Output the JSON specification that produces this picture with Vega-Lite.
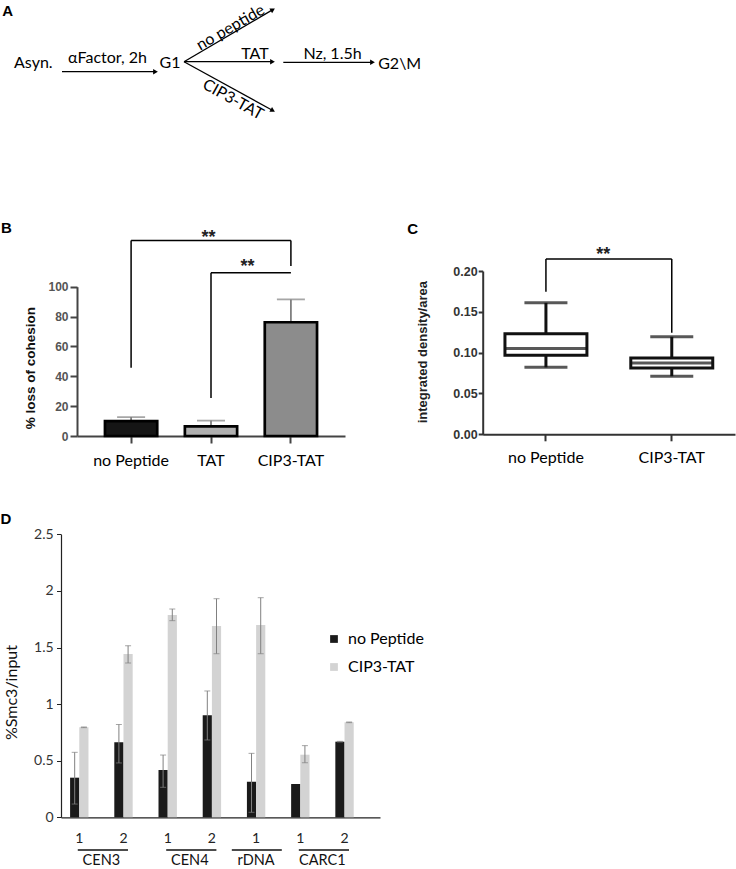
{
  "$schema": "https://vega.github.io/schema/vega-lite/v6.json",
  "width": 736,
  "height": 869,
  "autosize": {"type": "none"},
  "padding": 0,
  "background": "white",
  "config": {"view": {"stroke": null}, "font": "Lato", "axis": {"grid": false}},
  "datasets": {
    "diagramText": [
      {"label": "Asyn.", "x": 33.3, "y": 63, "angle": 0},
      {"label": "αFactor, 2h", "x": 107.5, "y": 57.5, "angle": 0},
      {"label": "G1", "x": 170, "y": 62.5, "angle": 0},
      {"label": "no peptide", "x": 230.5, "y": 27.5, "angle": -30},
      {"label": "TAT", "x": 255, "y": 53.5, "angle": 0},
      {"label": "CIP3-TAT", "x": 233, "y": 99.5, "angle": 29},
      {"label": "Nz, 1.5h", "x": 332.5, "y": 53.5, "angle": 0},
      {"label": "G2\\M", "x": 399.7, "y": 64, "angle": 0}
    ],
    "arrows": [
      {"x": 62, "y": 71.7, "x2": 155.5, "y2": 71.7, "angle": 0},
      {"x": 184, "y": 61.7, "x2": 272.8, "y2": 9.6, "angle": -30.4},
      {"x": 184, "y": 61.7, "x2": 272.5, "y2": 61.7, "angle": 0},
      {"x": 184, "y": 61.7, "x2": 272.8, "y2": 110.5, "angle": 28.8},
      {"x": 283.3, "y": 62.3, "x2": 372.5, "y2": 62.3, "angle": 0}
    ],
    "letters": [
      {"label": "A", "x": 7.7, "y": 11.3},
      {"label": "B", "x": 6.5, "y": 227.7},
      {"label": "C", "x": 412.7, "y": 228.7},
      {"label": "D", "x": 6, "y": 519.3}
    ],
    "bBars": [
      {"cat": "no Peptide", "value": 10, "upper": 12.7},
      {"cat": "TAT", "value": 6.4, "upper": 10.3},
      {"cat": "CIP3-TAT", "value": 76.2, "upper": 91.5}
    ],
    "bLegs": [
      {"cat": "no Peptide", "y1": 45.7, "y2": 131},
      {"cat": "TAT", "y1": 25.4, "y2": 109.4},
      {"cat": "CIP3-TAT", "y1": 113.9, "y2": 131}
    ],
    "bSpans": [
      {"from": "no Peptide", "to": "CIP3-TAT", "y": 131},
      {"from": "TAT", "to": "CIP3-TAT", "y": 109.4}
    ],
    "bStarOuter": [{"cat": "TAT", "y": 129.1, "label": "**"}],
    "bStarInner": [{"cat": "CIP3-TAT", "y": 109.7, "label": "**"}],
    "cBoxes": [
      {"cat": "no Peptide", "lo": 0.082, "q1": 0.0967, "med": 0.105, "q3": 0.123, "hi": 0.161},
      {"cat": "CIP3-TAT", "lo": 0.0711, "q1": 0.0813, "med": 0.0874, "q3": 0.0935, "hi": 0.1194}
    ],
    "cLegs": [
      {"cat": "no Peptide", "y1": 0.1747, "y2": 0.2147},
      {"cat": "CIP3-TAT", "y1": 0.1245, "y2": 0.2147}
    ],
    "cSpans": [{"from": "no Peptide", "to": "CIP3-TAT", "y": 0.2147}],
    "cStar": [{"cat": "CIP3-TAT", "y": 0.2129, "label": "**"}],
    "dBars": [
      {"slot": "CEN3 1", "series": "no Peptide", "value": 0.35, "lo": 0.117, "hi": 0.574},
      {"slot": "CEN3 1", "series": "CIP3-TAT", "value": 0.795, "lo": 0.792, "hi": 0.798},
      {"slot": "CEN3 2", "series": "no Peptide", "value": 0.663, "lo": 0.48, "hi": 0.82},
      {"slot": "CEN3 2", "series": "CIP3-TAT", "value": 1.443, "lo": 1.363, "hi": 1.516},
      {"slot": "CEN4 1", "series": "no Peptide", "value": 0.418, "lo": 0.265, "hi": 0.55},
      {"slot": "CEN4 1", "series": "CIP3-TAT", "value": 1.787, "lo": 1.737, "hi": 1.84},
      {"slot": "CEN4 2", "series": "no Peptide", "value": 0.901, "lo": 0.683, "hi": 1.116},
      {"slot": "CEN4 2", "series": "CIP3-TAT", "value": 1.69, "lo": 1.445, "hi": 1.931},
      {"slot": "rDNA 1", "series": "no Peptide", "value": 0.315, "lo": 0.044, "hi": 0.565},
      {"slot": "rDNA 1", "series": "CIP3-TAT", "value": 1.699, "lo": 1.445, "hi": 1.94},
      {"slot": "CARC1 1", "series": "no Peptide", "value": 0.294, "lo": null, "hi": null},
      {"slot": "CARC1 1", "series": "CIP3-TAT", "value": 0.553, "lo": 0.482, "hi": 0.633},
      {"slot": "CARC1 2", "series": "no Peptide", "value": 0.668, "lo": 0.665, "hi": 0.671},
      {"slot": "CARC1 2", "series": "CIP3-TAT", "value": 0.839, "lo": 0.836, "hi": 0.842}
    ],
    "dGroupPairs": [
      {"group": "CEN3", "first": "CEN3 1", "last": "CEN3 2"},
      {"group": "CEN4", "first": "CEN4 1", "last": "CEN4 2"},
      {"group": "CARC1", "first": "CARC1 1", "last": "CARC1 2"}
    ],
    "dGroupSingle": [{"group": "rDNA", "first": "rDNA 1"}]
  },
  "layer": [
    {
      "layer": [
        {
          "data": {"name": "arrows"},
          "mark": {"type": "rule", "color": "black", "strokeWidth": 1.3},
          "encoding": {
            "x": {"field": "x", "type": "quantitative", "scale": {"domain": [0, 736], "range": [0, 736], "nice": false, "zero": false}, "axis": null},
            "y": {"field": "y", "type": "quantitative", "scale": {"domain": [0, 869], "range": [0, 869], "nice": false, "zero": false}, "axis": null},
            "x2": {"field": "x2"},
            "y2": {"field": "y2"}
          }
        },
        {
          "data": {"name": "arrows"},
          "mark": {"type": "point", "shape": "triangle-right", "filled": true, "size": 30, "color": "black", "opacity": 1},
          "encoding": {
            "x": {"field": "x2", "type": "quantitative"},
            "y": {"field": "y2", "type": "quantitative"},
            "angle": {"field": "angle", "type": "quantitative", "scale": null}
          }
        },
        {
          "data": {"name": "diagramText"},
          "mark": {"type": "text", "font": "Lato", "fontSize": 16, "align": "center", "baseline": "middle", "color": "black"},
          "encoding": {
            "x": {"field": "x", "type": "quantitative"},
            "y": {"field": "y", "type": "quantitative"},
            "text": {"field": "label"},
            "angle": {"field": "angle", "type": "quantitative", "scale": null}
          }
        },
        {
          "data": {"name": "letters"},
          "mark": {"type": "text", "font": "Liberation Sans", "fontWeight": "bold", "fontSize": 15, "align": "center", "baseline": "middle", "color": "black"},
          "encoding": {
            "x": {"field": "x", "type": "quantitative"},
            "y": {"field": "y", "type": "quantitative"},
            "text": {"field": "label"}
          }
        }
      ]
    },
    {
      "layer": [
        {
          "data": {"name": "bBars"},
          "mark": {"type": "rule", "color": "#808080", "strokeWidth": 1.8},
          "encoding": {
            "x": {
              "field": "cat", "type": "nominal",
              "scale": {"domain": ["no Peptide", "TAT", "CIP3-TAT"], "range": [77, 345], "paddingInner": 0.346, "paddingOuter": 0.35, "round": false},
              "axis": {"orient": "bottom", "offset": -433, "title": null, "labelAngle": 0, "domainColor": "#444", "domainWidth": 2, "tickColor": "#444", "tickWidth": 2, "tickSize": 7, "labelFont": "Lato", "labelFontSize": 16, "labelColor": "black", "labelPadding": 17.7, "labelBaseline": "middle"}
            },
            "y": {
              "field": "value", "type": "quantitative",
              "scale": {"domain": [0, 100], "range": [436, 286.7], "nice": false, "zero": false},
              "axis": {"orient": "left", "offset": -77, "values": [0, 20, 40, 60, 80, 100], "title": "% loss of cohesion", "titleFont": "Liberation Sans", "titleFontSize": 13.5, "titleFontWeight": "bold", "titleColor": "#111", "titleAngle": -90, "titleX": -46.3, "titleY": 367.7, "titleAlign": "center", "titleBaseline": "middle", "domainColor": "#444", "domainWidth": 2, "tickColor": "#444", "tickWidth": 2, "tickSize": 7, "labelFont": "Liberation Sans", "labelFontSize": 12, "labelFontWeight": "bold", "labelColor": "#555", "labelPadding": 2}
            },
            "y2": {"field": "upper"}
          }
        },
        {
          "data": {"name": "bBars"},
          "mark": {"type": "tick", "color": "#808080", "thickness": 1.8, "size": 28},
          "encoding": {
            "x": {"field": "cat", "type": "nominal"},
            "y": {"field": "upper", "type": "quantitative"}
          }
        },
        {
          "data": {"name": "bBars"},
          "mark": {"type": "bar", "stroke": "black", "strokeWidth": 2.7},
          "encoding": {
            "x": {"field": "cat", "type": "nominal"},
            "y": {"field": "value", "type": "quantitative"},
            "fill": {"field": "cat", "type": "nominal", "scale": {"domain": ["no Peptide", "TAT", "CIP3-TAT"], "range": ["#151515", "#b0b0b0", "#8c8c8c"]}, "legend": null}
          }
        },
        {
          "data": {"name": "bLegs"},
          "mark": {"type": "rule", "color": "black", "strokeWidth": 1.5},
          "encoding": {
            "x": {"field": "cat", "type": "nominal"},
            "y": {"field": "y1", "type": "quantitative"},
            "y2": {"field": "y2"}
          }
        },
        {
          "data": {"name": "bSpans"},
          "mark": {"type": "rule", "color": "black", "strokeWidth": 1.5},
          "encoding": {
            "x": {"field": "from", "type": "nominal"},
            "x2": {"field": "to"},
            "y": {"field": "y", "type": "quantitative"}
          }
        },
        {
          "data": {"name": "bStarOuter"},
          "mark": {"type": "text", "font": "Liberation Sans", "fontWeight": "bold", "fontSize": 18, "align": "center", "baseline": "alphabetic", "color": "#222"},
          "encoding": {
            "x": {"field": "cat", "type": "nominal", "bandPosition": 0.45},
            "y": {"field": "y", "type": "quantitative"},
            "text": {"field": "label"}
          }
        },
        {
          "data": {"name": "bStarInner"},
          "mark": {"type": "text", "font": "Liberation Sans", "fontWeight": "bold", "fontSize": 18, "align": "center", "baseline": "alphabetic", "color": "#222"},
          "encoding": {
            "x": {"field": "cat", "type": "nominal", "bandPosition": -0.33},
            "y": {"field": "y", "type": "quantitative"},
            "text": {"field": "label"}
          }
        }
      ]
    },
    {
      "layer": [
        {
          "data": {"name": "cBoxes"},
          "mark": {"type": "rule", "color": "#111", "strokeWidth": 3},
          "encoding": {
            "x": {
              "field": "cat", "type": "nominal",
              "scale": {"domain": ["no Peptide", "CIP3-TAT"], "range": [482.7, 735], "paddingInner": 0.325, "paddingOuter": 0.165, "round": false},
              "axis": {"orient": "bottom", "offset": -434.7, "title": null, "labelAngle": 0, "domainColor": "#333", "domainWidth": 2, "tickColor": "#333", "tickWidth": 2, "tickSize": 6.5, "labelFont": "Lato", "labelFontSize": 16, "labelColor": "black", "labelPadding": 16.9, "labelBaseline": "middle"}
            },
            "y": {
              "field": "lo", "type": "quantitative",
              "scale": {"domain": [0, 0.2], "range": [434.3, 271], "nice": false, "zero": false},
              "axis": {"orient": "left", "offset": -482.7, "values": [0, 0.05, 0.1, 0.15, 0.2], "format": ".2f", "title": "integrated density/area", "titleFont": "Liberation Sans", "titleFontSize": 13, "titleFontWeight": "bold", "titleColor": "#222", "titleAngle": -90, "titleX": -60.4, "titleY": 351.7, "titleAlign": "center", "titleBaseline": "middle", "domainColor": "#333", "domainWidth": 2, "tickColor": "#333", "tickWidth": 2, "tickSize": 4.5, "labelFont": "Liberation Sans", "labelFontSize": 12.5, "labelFontWeight": "bold", "labelColor": "#333", "labelPadding": 1}
            },
            "y2": {"field": "hi"}
          }
        },
        {
          "data": {"name": "cBoxes"},
          "mark": {"type": "bar", "fill": "white", "stroke": "#111", "strokeWidth": 3, "width": {"band": 0.965}},
          "encoding": {
            "x": {"field": "cat", "type": "nominal"},
            "y": {"field": "q1", "type": "quantitative"},
            "y2": {"field": "q3"}
          }
        },
        {
          "data": {"name": "cBoxes"},
          "mark": {"type": "tick", "color": "#111", "thickness": 3, "size": 82},
          "encoding": {
            "x": {"field": "cat", "type": "nominal"},
            "y": {"field": "med", "type": "quantitative"}
          }
        },
        {
          "data": {"name": "cBoxes"},
          "mark": {"type": "tick", "color": "#111", "thickness": 3, "size": 43},
          "encoding": {
            "x": {"field": "cat", "type": "nominal"},
            "y": {"field": "lo", "type": "quantitative"}
          }
        },
        {
          "data": {"name": "cBoxes"},
          "mark": {"type": "tick", "color": "#111", "thickness": 3, "size": 43},
          "encoding": {
            "x": {"field": "cat", "type": "nominal"},
            "y": {"field": "hi", "type": "quantitative"}
          }
        },
        {
          "data": {"name": "cLegs"},
          "mark": {"type": "rule", "color": "black", "strokeWidth": 1.5},
          "encoding": {
            "x": {"field": "cat", "type": "nominal"},
            "y": {"field": "y1", "type": "quantitative"},
            "y2": {"field": "y2"}
          }
        },
        {
          "data": {"name": "cSpans"},
          "mark": {"type": "rule", "color": "black", "strokeWidth": 1.5},
          "encoding": {
            "x": {"field": "from", "type": "nominal"},
            "x2": {"field": "to"},
            "y": {"field": "y", "type": "quantitative"}
          }
        },
        {
          "data": {"name": "cStar"},
          "mark": {"type": "text", "font": "Liberation Sans", "fontWeight": "bold", "fontSize": 18, "align": "center", "baseline": "alphabetic", "color": "#222"},
          "encoding": {
            "x": {"field": "cat", "type": "nominal", "bandPosition": -0.307},
            "y": {"field": "y", "type": "quantitative"},
            "text": {"field": "label"}
          }
        }
      ]
    },
    {
      "layer": [
        {
          "data": {"name": "dBars"},
          "mark": {"type": "bar"},
          "encoding": {
            "x": {
              "field": "slot", "type": "nominal",
              "scale": {"domain": ["CEN3 1", "CEN3 2", "CEN4 1", "CEN4 2", "rDNA 1", "CARC1 1", "CARC1 2"], "range": [61, 380], "paddingInner": 0.584, "paddingOuter": 0.4, "align": 0.257, "round": false},
              "axis": {"orient": "bottom", "offset": -51.7, "title": null, "labelAngle": 0, "labelExpr": "split(datum.value, ' ')[1]", "domainColor": "#222", "domainWidth": 1.2, "ticks": false, "tickSize": 0, "labelFont": "Lato", "labelFontSize": 14, "labelColor": "#222", "labelPadding": 20.8, "labelBaseline": "middle"}
            },
            "xOffset": {"field": "series", "type": "nominal", "scale": {"domain": ["no Peptide", "CIP3-TAT"], "paddingInner": 0, "paddingOuter": 0}},
            "y": {
              "field": "value", "type": "quantitative",
              "scale": {"domain": [0, 2.5], "range": [817.3, 534.3], "nice": false, "zero": false},
              "axis": {"orient": "left", "offset": -61, "values": [0, 0.5, 1, 1.5, 2, 2.5], "format": "~g", "title": "%Smc3/input", "titleFont": "Lato", "titleFontSize": 16, "titleFontWeight": "normal", "titleColor": "#111", "titleAngle": -90, "titleX": -50, "titleY": 692, "titleAlign": "center", "titleBaseline": "middle", "domainColor": "#222", "domainWidth": 1.2, "tickColor": "#222", "tickWidth": 1, "tickSize": 4.5, "labelFont": "Lato", "labelFontSize": 14, "labelColor": "#333", "labelPadding": 3.4}
            },
            "color": {
              "field": "series", "type": "nominal",
              "scale": {"domain": ["no Peptide", "CIP3-TAT"], "range": ["#1a1a1a", "#d3d3d3"]},
              "legend": {"orient": "none", "legendX": 326, "legendY": 631, "title": null, "symbolType": "square", "symbolSize": 60, "symbolStrokeWidth": 0, "labelFont": "Lato", "labelFontSize": 16, "labelColor": "black", "rowPadding": 12, "padding": 0, "labelOffset": 6, "symbolOffset": 0}
            }
          }
        },
        {
          "data": {"name": "dBars"},
          "mark": {"type": "rule", "color": "#808080", "strokeWidth": 1},
          "encoding": {
            "x": {"field": "slot", "type": "nominal"},
            "xOffset": {"field": "series", "type": "nominal"},
            "y": {"field": "lo", "type": "quantitative"},
            "y2": {"field": "hi"}
          }
        },
        {
          "data": {"name": "dBars"},
          "mark": {"type": "tick", "color": "#808080", "thickness": 1, "size": 6},
          "encoding": {
            "x": {"field": "slot", "type": "nominal"},
            "xOffset": {"field": "series", "type": "nominal"},
            "y": {"field": "lo", "type": "quantitative"}
          }
        },
        {
          "data": {"name": "dBars"},
          "mark": {"type": "tick", "color": "#808080", "thickness": 1, "size": 6},
          "encoding": {
            "x": {"field": "slot", "type": "nominal"},
            "xOffset": {"field": "series", "type": "nominal"},
            "y": {"field": "hi", "type": "quantitative"}
          }
        },
        {
          "data": {"name": "dGroupPairs"},
          "mark": {"type": "rule", "color": "#111", "strokeWidth": 1.3, "xOffset": -1.5, "x2Offset": 4.5},
          "encoding": {
            "x": {"field": "first", "type": "nominal"},
            "x2": {"field": "last"},
            "y": {"datum": -0.289}
          }
        },
        {
          "data": {"name": "dGroupSingle"},
          "mark": {"type": "rule", "color": "#111", "strokeWidth": 1.3, "xOffset": -24.3, "x2Offset": 25.7},
          "encoding": {
            "x": {"field": "first", "type": "nominal"},
            "x2": {"field": "first"},
            "y": {"datum": -0.289}
          }
        },
        {
          "data": {"name": "dGroupPairs"},
          "mark": {"type": "text", "font": "Lato", "fontSize": 14.5, "align": "center", "baseline": "middle", "color": "#111"},
          "encoding": {
            "x": {"field": "first", "type": "nominal", "bandPosition": 1.7},
            "y": {"datum": -0.382},
            "text": {"field": "group"}
          }
        },
        {
          "data": {"name": "dGroupSingle"},
          "mark": {"type": "text", "font": "Lato", "fontSize": 14.5, "align": "center", "baseline": "middle", "color": "#111"},
          "encoding": {
            "x": {"field": "first", "type": "nominal"},
            "y": {"datum": -0.382},
            "text": {"field": "group"}
          }
        }
      ]
    }
  ],
  "resolve": {
    "scale": {"x": "independent", "y": "independent", "fill": "independent", "color": "independent", "xOffset": "independent"},
    "axis": {"x": "independent", "y": "independent"},
    "legend": {"color": "independent", "fill": "independent"}
  }
}
